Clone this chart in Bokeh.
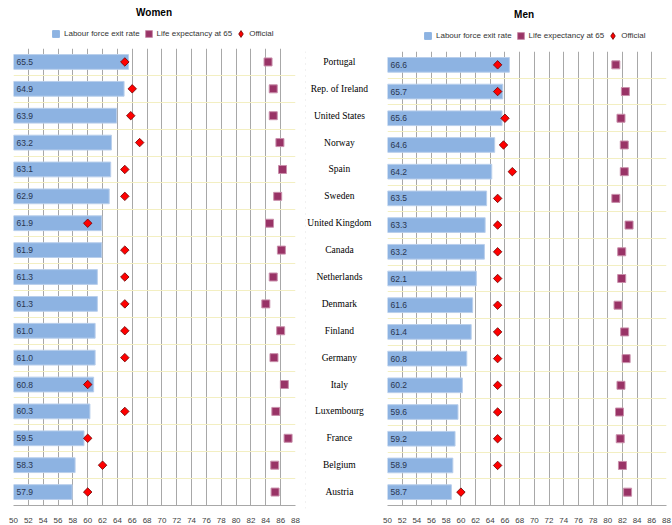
import math
from bokeh.plotting import figure
from bokeh.models import Range1d, FixedTicker, Legend, LegendItem, ColumnDataSource, Span
from bokeh.layouts import row, column
from bokeh.embed import file_html
from bokeh.resources import INLINE
from bokeh.core.properties import value

countries = ["Portugal", "Rep. of Ireland", "United States", "Norway", "Spain", "Sweden",
             "United Kingdom", "Canada", "Netherlands", "Denmark", "Finland", "Germany",
             "Italy", "Luxembourg", "France", "Belgium", "Austria"]

women_exit = [65.5, 64.9, 63.9, 63.2, 63.1, 62.9, 61.9, 61.9, 61.3, 61.3, 61.0, 61.0, 60.8, 60.3, 59.5, 58.3, 57.9]
women_official = [65, 66, 65.8, 67, 65, 65, 60, 65, 65, 65, 65, 65, 60, 65, 60, 62, 60]
women_life = [84.3, 85.0, 85.0, 85.9, 86.25, 85.6, 84.5, 86.1, 85.0, 84.0, 86.0, 85.1, 86.5, 85.35, 87.0, 85.2, 85.25]

men_exit = [66.6, 65.7, 65.6, 64.6, 64.2, 63.5, 63.3, 63.2, 62.1, 61.6, 61.4, 60.8, 60.2, 59.6, 59.2, 58.9, 58.7]
men_official = [65, 65, 66, 65.8, 67, 65, 65, 65, 65, 65, 65, 65, 65, 65, 65, 65, 60]
men_life = [81.1, 82.4, 81.8, 82.25, 82.25, 81.1, 82.9, 81.9, 81.9, 81.4, 82.3, 82.5, 81.8, 81.6, 81.7, 82.0, 82.7]

x_ticks = list(range(50, 89, 2))
X_MIN, X_MAX = 50, 88
legend_labels = ["Labour force exit rate", "Life expectancy at 65", "Official"]

BAR = "#8db3e2"
BAR_EDGE = "#b9cfec"
SQ = "#993366"
SQ_EDGE = "#c98fab"
DIA = "#ff0000"
DIA_EDGE = "#6a0000"
GRID_V = "#a8a8a8"
GRID_H = "#f3efc2"
FONT = "Liberation Sans"


def header(title, exit_, official, life, width, height, title_x, title_y, leg_x, leg_y):
    h = figure(width=width, height=height, x_range=Range1d(0, width), y_range=Range1d(height, 0),
               output_backend="svg", toolbar_location=None, x_axis_location=None,
               y_axis_location=None, min_border=0)
    h.outline_line_color = None
    h.xgrid.visible = False
    h.ygrid.visible = False
    h.text(x=[title_x], y=[title_y], text=[title], text_align="center", text_baseline="middle",
           text_font=value(FONT), text_font_size="10px", text_font_style="bold",
           text_color="#000000")
    src = ColumnDataSource(dict(exit=exit_, off=official, life=life))
    r_bar = h.scatter(x="exit", y="exit", marker="square", fill_color=BAR, line_color=BAR,
                      source=src, visible=False)
    r_sq = h.scatter(x="life", y="life", marker="square", fill_color=SQ, line_color=SQ_EDGE,
                     source=src, visible=False)
    r_dia = h.scatter(x="off", y="off", marker="diamond", fill_color=DIA, line_color=DIA_EDGE,
                      line_width=0.8, source=src, visible=False)
    legend = Legend(items=[
        LegendItem(label=legend_labels[0], renderers=[r_bar]),
        LegendItem(label=legend_labels[1], renderers=[r_sq]),
        LegendItem(label=legend_labels[2], renderers=[r_dia]),
    ], orientation="horizontal", location=(leg_x, leg_y), glyph_width=17, glyph_height=17,
        label_standoff=-4, spacing=-2, padding=0, margin=0, border_line_color=None,
        background_fill_alpha=0, label_text_font=FONT, label_text_font_size="8px",
        label_text_color="#333333")
    h.add_layout(legend, "center")
    return h


def panel(exit_, official, life, width, height, left, right, bottom):
    n = len(exit_)
    ys = list(range(n))
    p = figure(width=width, height=height, x_range=Range1d(X_MIN, X_MAX),
               y_range=Range1d(n - 0.5, -0.5), output_backend="svg",
               toolbar_location=None, y_axis_location=None,
               min_border_left=left, min_border_right=right,
               min_border_top=0, min_border_bottom=bottom)
    p.outline_line_color = None

    src = ColumnDataSource(dict(y=ys, exit=exit_, off=official, life=life,
                                lbl=[f"{v:.1f}" for v in exit_]))
    p.hbar(y="y", left=X_MIN, right="exit", height=0.55, fill_color=BAR,
           line_color=BAR_EDGE, line_width=1, source=src)
    p.scatter(x="life", y="y", marker="square", size=8, fill_color=SQ,
              line_color=SQ_EDGE, line_width=1, source=src)
    p.scatter(x="off", y="y", marker="square", size=6, angle=math.pi / 4,
              fill_color=DIA, line_color=DIA_EDGE, line_width=0.8, source=src)
    p.text(x=X_MIN, y="y", text="lbl", x_offset=3, text_baseline="middle",
           text_font=value(FONT), text_font_size="8.5px", text_color="#2a3550",
           source=src)

    p.xaxis.ticker = FixedTicker(ticks=x_ticks)
    p.xaxis.major_tick_line_color = None
    p.xaxis.minor_tick_line_color = None
    p.xaxis.axis_line_color = GRID_V
    p.xaxis.major_label_standoff = 6
    p.xaxis.major_label_text_font = FONT
    p.xaxis.major_label_text_font_size = "8px"
    p.xaxis.major_label_text_color = "#404040"

    p.xgrid.ticker = FixedTicker(ticks=x_ticks)
    p.xgrid.grid_line_color = GRID_V
    p.ygrid.ticker = FixedTicker(ticks=[i - 0.5 for i in range(n + 1)])
    p.ygrid.grid_line_color = GRID_H
    return p


women_head = header("Women", women_exit, women_official, women_life,
                    width=305, height=48, title_x=152, title_y=12, leg_x=34, leg_y=6)
women = panel(women_exit, women_official, women_life,
              width=305, height=477, left=13, right=10, bottom=19)

men_head = header("Men", men_exit, men_official, men_life,
                  width=290, height=51, title_x=142, title_y=14, leg_x=32, leg_y=7)
men = panel(men_exit, men_official, men_life,
            width=290, height=474, left=5, right=6, bottom=17)

n = len(countries)
labels = figure(width=77, height=525, x_range=Range1d(0, 1), y_range=Range1d(n - 0.5, -0.5),
                output_backend="svg", toolbar_location=None, x_axis_location=None,
                y_axis_location=None, min_border_left=0, min_border_right=0,
                min_border_top=51, min_border_bottom=17)
labels.outline_line_color = None
labels.xgrid.visible = False
labels.ygrid.visible = False
lsrc = ColumnDataSource(dict(y=list(range(n)), name=countries))
labels.text(x=0.44, y="y", text="name", y_offset=-3, text_align="center",
            text_baseline="middle", text_font=value("Liberation Serif"),
            text_font_size="9.5px", text_color="#000000", source=lsrc)
labels.add_layout(Span(location=0, dimension="height", line_color="#c8c8c8",
                       line_dash="1 5", line_width=1))

layout = row(column(women_head, women, spacing=0), labels,
             column(men_head, men, spacing=0), spacing=0)
open("out.html", "w").write(file_html(layout, INLINE))
